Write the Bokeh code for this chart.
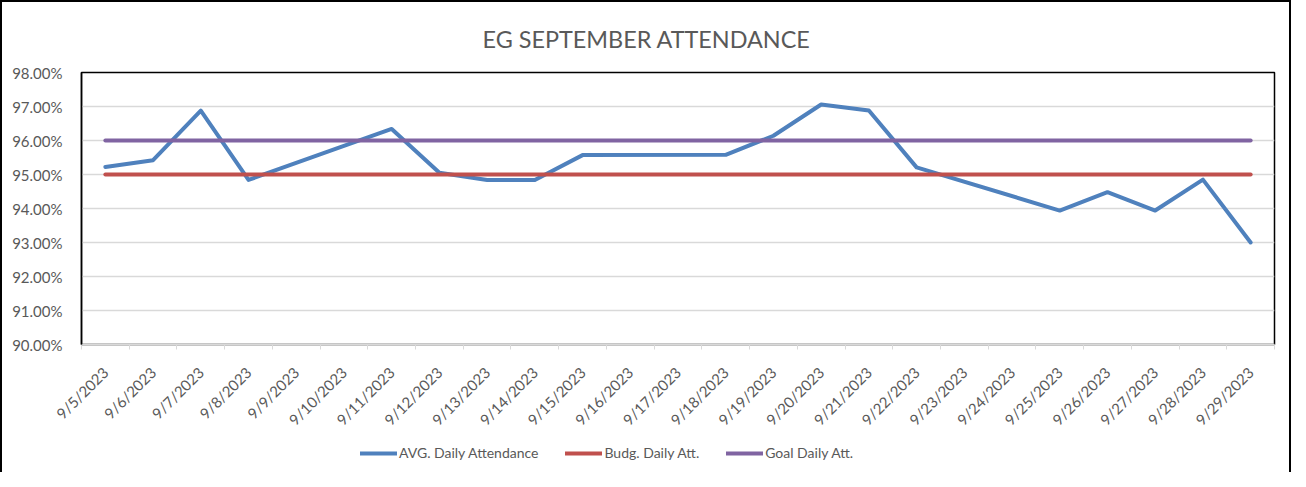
import datetime as dt
from bokeh.plotting import figure
from bokeh.layouts import column
from bokeh.models import Range1d, FixedTicker, PrintfTickFormatter, Legend, LegendItem
from bokeh.embed import file_html
from bokeh.resources import INLINE
import math

# ---- data ----
axis_dates = ["9/5/2023", "9/6/2023", "9/7/2023", "9/8/2023", "9/9/2023", "9/10/2023",
              "9/11/2023", "9/12/2023", "9/13/2023", "9/14/2023", "9/15/2023", "9/16/2023",
              "9/17/2023", "9/18/2023", "9/19/2023", "9/20/2023", "9/21/2023", "9/22/2023",
              "9/23/2023", "9/24/2023", "9/25/2023", "9/26/2023", "9/27/2023", "9/28/2023",
              "9/29/2023"]
school_days = ["9/5/2023", "9/6/2023", "9/7/2023", "9/8/2023", "9/11/2023", "9/12/2023",
               "9/13/2023", "9/14/2023", "9/15/2023", "9/18/2023", "9/19/2023", "9/20/2023",
               "9/21/2023", "9/22/2023", "9/25/2023", "9/26/2023", "9/27/2023", "9/28/2023",
               "9/29/2023"]
avg_daily = [95.22, 95.42, 96.88, 94.84, 96.34, 95.05, 94.84, 94.84, 95.57, 95.58,
             96.14, 97.06, 96.88, 95.21, 93.94, 94.48, 93.94, 94.85, 93.00]
budg_daily = [95.00, 95.00, 95.00, 95.00, 95.00, 95.00, 95.00, 95.00, 95.00, 95.00,
              95.00, 95.00, 95.00, 95.00, 95.00, 95.00, 95.00, 95.00, 95.00]
goal_daily = [96.00, 96.00, 96.00, 96.00, 96.00, 96.00, 96.00, 96.00, 96.00, 96.00,
              96.00, 96.00, 96.00, 96.00, 96.00, 96.00, 96.00, 96.00, 96.00]
y_ticks = [90, 91, 92, 93, 94, 95, 96, 97, 98]
series_names = ["AVG. Daily Attendance", "Budg. Daily Att.", "Goal Daily Att."]
series_colors = ["#4F81BD", "#C0504D", "#8064A2"]
series_values = [avg_daily, budg_daily, goal_daily]

# ---- mapping dates to day slots ----
def parse(s):
    m, d, y = s.split("/")
    return dt.date(int(y), int(m), int(d))

start = parse(axis_dates[0])
def slot(s):
    return (parse(s) - start).days + 0.5

xs = [slot(s) for s in school_days]
centers = [slot(s) for s in axis_dates]
bounds = [c - 0.5 for c in centers] + [centers[-1] + 0.5]

FONT = "Lato"
TXT = "#595959"

p = figure(frame_width=1189, frame_height=270, output_backend="svg", toolbar_location=None,
           x_range=Range1d(bounds[0], bounds[-1]), y_range=Range1d(y_ticks[0], y_ticks[-1]),
           min_border_left=79, min_border_right=19, min_border_top=69, min_border_bottom=95)
p.styles = {"border-top": "2px solid #000", "border-left": "2px solid #000",
            "border-right": "2px solid #000"}

p.title.text = "EG SEPTEMBER ATTENDANCE"
p.title.align = "left"
p.title.offset = 401
p.title.text_font = FONT
p.title.text_font_size = "23.4px"
p.title.text_font_style = "normal"
p.title.text_color = TXT
p.title.standoff = 40

p.outline_line_color = "#000000"
p.outline_line_width = 1.5

# x axis
xa = p.xaxis[0]
xa.ticker = FixedTicker(ticks=centers, minor_ticks=bounds)
xa.major_label_overrides = {c: lab for c, lab in zip(centers, axis_dates)}
xa.major_label_orientation = math.pi / 4
xa.major_tick_line_color = None
xa.major_tick_out = 0
xa.minor_tick_line_color = "#D9D9D9"
xa.minor_tick_out = 5
xa.minor_tick_in = 0
xa.axis_line_color = "#D9D9D9"
xa.axis_line_width = 1.5
xa.major_label_text_font = FONT
xa.major_label_text_font_size = "15px"
xa.major_label_text_color = TXT
xa.major_label_standoff = 20

# y axis
ya = p.yaxis[0]
ya.ticker = FixedTicker(ticks=y_ticks)
ya.formatter = PrintfTickFormatter(format="%.2f%%")
ya.major_tick_line_color = None
ya.minor_tick_line_color = None
ya.major_tick_out = 0
ya.axis_line_color = "#000000"
ya.axis_line_width = 1.5
ya.major_label_text_font = FONT
ya.major_label_text_font_size = "15px"
ya.major_label_text_color = TXT
ya.major_label_standoff = 19

p.xgrid.grid_line_color = None
p.ygrid.ticker = FixedTicker(ticks=y_ticks[1:-1])
p.ygrid.grid_line_color = "#D9D9D9"
p.ygrid.grid_line_width = 1.5

for vals, col in zip(series_values, series_colors):
    p.line(xs, vals, line_color=col, line_width=4, line_cap="round", line_join="round")

# ---- legend strip (series drawn outside its visible range, only the legend shows) ----
q = figure(frame_width=1189, frame_height=35, output_backend="svg", toolbar_location=None,
           x_range=Range1d(bounds[0], bounds[-1]), y_range=Range1d(0, 1),
           x_axis_type=None, y_axis_type=None,
           min_border_left=79, min_border_right=19, min_border_top=0, min_border_bottom=0)
q.styles = {"border-left": "2px solid #000", "border-right": "2px solid #000"}
q.outline_line_color = None
q.xgrid.grid_line_color = None
q.ygrid.grid_line_color = None

items = []
for vals, col, name in zip(series_values, series_colors, series_names):
    r = q.line(xs, vals, line_color=col, line_width=4, line_cap="round", line_join="round")
    items.append(LegendItem(label=name, renderers=[r]))

legend = Legend(items=items, orientation="horizontal", location=(279, 11),
                label_text_font=FONT, label_text_font_size="14px", label_text_color=TXT,
                glyph_width=37, glyph_height=16, label_standoff=2, spacing=27,
                border_line_color=None, background_fill_alpha=0, padding=0, margin=0)
q.add_layout(legend, "center")

layout = column(p, q, spacing=0)
open("out.html", "w").write(file_html(layout, INLINE))
